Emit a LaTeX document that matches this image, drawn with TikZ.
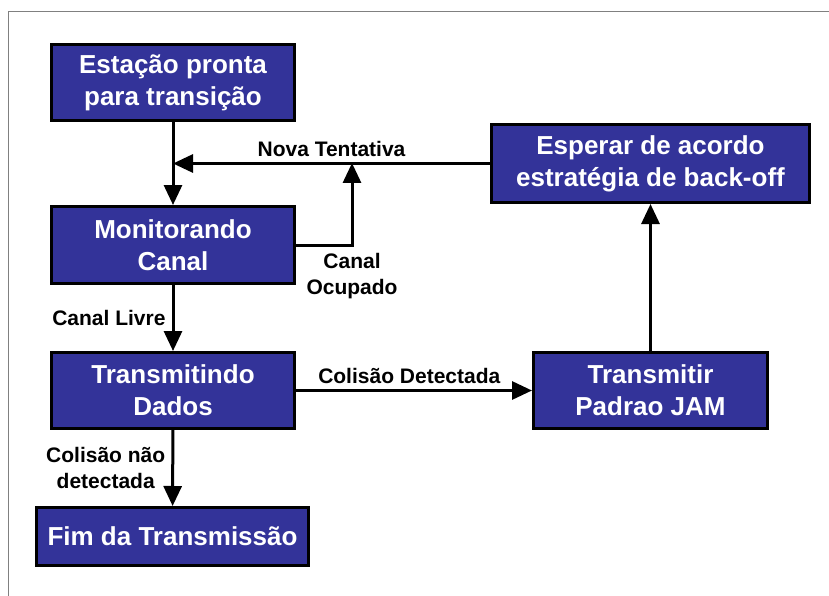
\documentclass[tikz,border=0pt]{standalone}
\usepackage{fontspec}
\setmainfont{Liberation Sans}
\usetikzlibrary{arrows.meta}

\definecolor{boxblue}{RGB}{51,51,153}
\definecolor{framegray}{RGB}{128,128,128}

\tikzset{
    estado/.style={draw=black, fill=boxblue, line width=3pt, text=white, align=center, inner sep=0pt,
        font=\fontsize{26}{32}\selectfont\bfseries},
    rotulo/.style={font=\fontsize{21}{26}\selectfont\bfseries, align=center, inner sep=2pt},
    seta/.style={line width=3pt, -{Triangle[length=20pt,width=18pt]}}
}

\begin{document}
\begin{tikzpicture}[x=1pt,y=-1pt]
    \useasboundingbox (0,0) rectangle (829,596);
    \draw[framegray, line width=1pt] (8,596) -- (8,12) -- (829,12);

    \node[estado, minimum width=243pt, minimum height=76pt] (pronta) at (173,82.5) {Estação pronta\\para transição};
    \node[estado, minimum width=243pt, minimum height=77pt] (monitor) at (173,245) {Monitorando\\Canal};
    \node[estado, minimum width=243pt, minimum height=76pt] (transm) at (173,390.5) {Transmitindo\\Dados};
    \node[estado, minimum width=272pt, minimum height=58pt] (fim) at (172.5,536.5) {Fim da Transmissão};
    \node[estado, minimum width=318pt, minimum height=78pt] (espera) at (650.5,163.5) {Esperar de acordo\\estratégia de back-off};
    \node[estado, minimum width=234pt, minimum height=76pt] (jam) at (650.5,390.5) {Transmitir\\Padrao JAM};

    \coordinate (retorno) at (pronta.south |- espera.west);
    \coordinate (ocupado) at (352,163);

    \draw[seta] (pronta) -- (monitor);
    \draw[seta] (espera.west) -- (retorno) node[rotulo, midway, above=3pt] {Nova Tentativa};
    \draw[seta] (monitor.east) -| (ocupado) node[rotulo, pos=0.5, below=5pt] {Canal\\Ocupado};
    \draw[seta] (monitor) -- (transm) node[rotulo, midway, left=4pt] {Canal Livre};
    \draw[seta] (transm) -- (jam) node[rotulo, pos=0.48, above=3pt] {Colisão Detectada};
    \draw[seta] (jam) -- (espera);
    \draw[seta] (transm) -- (fim) node[rotulo, midway, left=4pt] {Colisão não\\detectada};
\end{tikzpicture}
\end{document}
